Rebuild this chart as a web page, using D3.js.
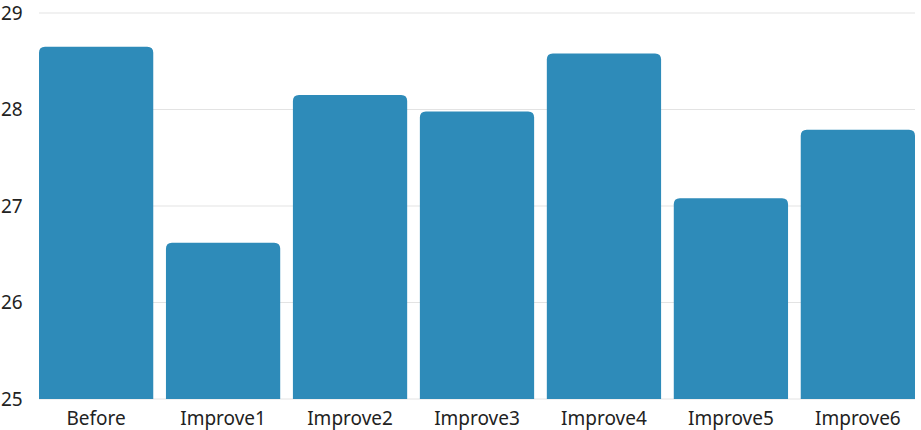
<!DOCTYPE html>
<html><head><meta charset="utf-8">
<script src="https://cdn.jsdelivr.net/npm/d3@7"></script>
<style>body{margin:0;background:#fff;} svg{display:block;font-family:"Noto Sans",sans-serif;}</style>
</head><body>
<svg id="c" width="921" height="430"></svg>
<script>
const categories = ["Before","Improve1","Improve2","Improve3","Improve4","Improve5","Improve6"];
const values = [28.65, 26.62, 28.15, 27.98, 28.58, 27.08, 27.79];
const yTicks = [25, 26, 27, 28, 29];

const svg = d3.select("#c");
const x = d3.scaleBand().domain(categories).range([39, 915]).paddingInner(0.1).paddingOuter(0);
const y = d3.scaleLinear().domain([25, 29]).range([399, 13]);

svg.append("g").selectAll("line").data(yTicks).join("line")
  .attr("x1", 39).attr("x2", 915)
  .attr("y1", d => y(d)).attr("y2", d => y(d))
  .attr("stroke", "#e3e3e3").attr("stroke-width", 1);

svg.append("g").selectAll("text").data(yTicks).join("text")
  .attr("x", 1).attr("y", d => y(d)).attr("dy", "0.35em")
  .attr("font-size", 19).attr("fill", "#222").text(d => d);

const r = 6;
svg.append("g").selectAll("path").data(categories).join("path")
  .attr("fill", "#2e8bb9")
  .attr("d", (c, i) => {
    const x0 = x(c), w = x.bandwidth(), t = y(values[i]), b = y(25);
    return `M${x0},${b}V${t + r}Q${x0},${t} ${x0 + r},${t}H${x0 + w - r}Q${x0 + w},${t} ${x0 + w},${t + r}V${b}Z`;
  });

svg.append("g").selectAll("text").data(categories).join("text")
  .attr("x", c => x(c) + x.bandwidth() / 2).attr("y", 418).attr("dy", "0.35em")
  .attr("text-anchor", "middle").attr("font-size", 19).attr("fill", "#222").text(c => c);
</script>
</body></html>
